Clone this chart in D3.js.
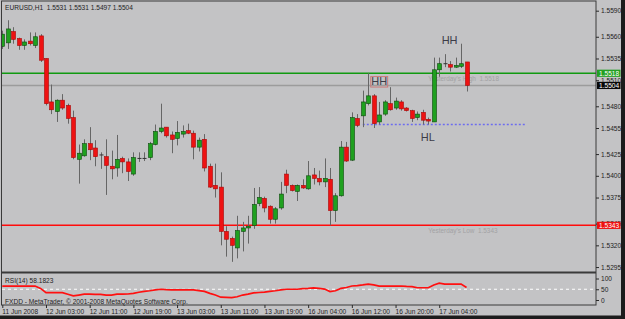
<!DOCTYPE html>
<html>
<head>
<meta charset="utf-8">
<script src="https://cdn.jsdelivr.net/npm/d3@7"></script>
<style>
  html, body { margin: 0; padding: 0; background: #c3c3c5; }
  svg { display: block; font-family: "Liberation Sans", Arial, sans-serif; }
  .ax text { font-size: 6.6px; fill: #1e1e1e; }
  .ax line { stroke: #2a2a2a; }
  .ax path { display: none; }
</style>
</head>
<body>
<svg id="chart" width="625" height="319"></svg>
<script>
// EURUSD H1 bars (11 Jun 19:00 .. 17 Jun 09:00)
const opens = [1.5549,1.5553,1.5566,1.5558,1.5550,1.5555,1.5550,1.5561,1.5535,1.5485,
  1.5474,1.5487,1.5481,1.5467,1.5419,1.5423,1.5437,1.5432,1.5424,1.5422,
  1.5411,1.5409,1.5420,1.5416,1.5402,1.5420,1.5420,1.5421,1.5436,1.5451,
  1.5456,1.5447,1.5443,1.5448,1.5452,1.5449,1.5433,1.5442,1.5411,1.5389,
  1.5387,1.5336,1.5328,1.5317,1.5336,1.5340,1.5343,1.5368,1.5374,1.5365,
  1.5350,1.5363,1.5402,1.5389,1.5382,1.5389,1.5385,1.5401,1.5397,1.5393,
  1.5396,1.5360,1.5377,1.5433,1.5418,1.5466,1.5469,1.5483,1.5492,1.5462,
  1.5471,1.5483,1.5478,1.5485,1.5478,1.5475,1.5467,1.5473,1.5465,1.5462,
  1.5522,1.5529,1.5528,1.5525,1.5526,1.5531];
const highs = [1.5567,1.5579,1.5571,1.5559,1.5557,1.5565,1.5565,1.5563,1.5535,1.5505,
  1.5488,1.5494,1.5483,1.5475,1.5436,1.5442,1.5456,1.5441,1.5427,1.5442,
  1.5429,1.5447,1.5422,1.5420,1.5427,1.5427,1.5427,1.5439,1.5459,1.5483,
  1.5456,1.5451,1.5463,1.5458,1.5460,1.5452,1.5444,1.5448,1.5414,1.5414,
  1.5404,1.5342,1.5330,1.5354,1.5347,1.5354,1.5386,1.5387,1.5376,1.5366,
  1.5364,1.5393,1.5407,1.5390,1.5390,1.5396,1.5417,1.5409,1.5406,1.5420,
  1.5409,1.5380,1.5440,1.5439,1.5473,1.5471,1.5498,1.5518,1.5494,1.5485,
  1.5487,1.5502,1.5490,1.5487,1.5479,1.5476,1.5474,1.5476,1.5467,1.5536,
  1.5536,1.5540,1.5532,1.5536,1.5552,1.5531];
const lows = [1.5546,1.5546,1.5552,1.5545,1.5545,1.5550,1.5547,1.5531,1.5481,1.5471,
  1.5462,1.5476,1.5460,1.5419,1.5391,1.5422,1.5418,1.5411,1.5408,1.5378,
  1.5396,1.5399,1.5403,1.5394,1.5400,1.5416,1.5417,1.5418,1.5435,1.5449,
  1.5444,1.5426,1.5435,1.5444,1.5448,1.5419,1.5428,1.5405,1.5386,1.5375,
  1.5320,1.5307,1.5301,1.5305,1.5313,1.5322,1.5339,1.5365,1.5358,1.5345,
  1.5345,1.5361,1.5380,1.5382,1.5371,1.5385,1.5384,1.5390,1.5389,1.5387,
  1.5343,1.5347,1.5376,1.5416,1.5417,1.5456,1.5456,1.5481,1.5455,1.5459,
  1.5469,1.5475,1.5476,1.5475,1.5474,1.5462,1.5464,1.5459,1.5459,1.5462,
  1.5514,1.5525,1.5520,1.5524,1.5524,1.5497];
const closes = [1.5563,1.5569,1.5557,1.5550,1.5554,1.5552,1.5560,1.5533,1.5483,1.5476,
  1.5487,1.5478,1.5466,1.5421,1.5426,1.5437,1.5430,1.5422,1.5424,1.5412,
  1.5408,1.5419,1.5416,1.5405,1.5421,1.5420,1.5420,1.5437,1.5451,1.5455,
  1.5446,1.5442,1.5450,1.5451,1.5449,1.5433,1.5441,1.5409,1.5387,1.5385,
  1.5336,1.5327,1.5320,1.5337,1.5340,1.5342,1.5367,1.5375,1.5363,1.5350,
  1.5362,1.5379,1.5389,1.5383,1.5389,1.5386,1.5400,1.5397,1.5393,1.5397,
  1.5360,1.5377,1.5433,1.5417,1.5467,1.5458,1.5485,1.5492,1.5460,1.5470,
  1.5485,1.5476,1.5486,1.5477,1.5475,1.5466,1.5471,1.5464,1.5463,1.5522,
  1.5529,1.5529,1.5525,1.5527,1.5529,1.5504];
const rsi = [65,65,65,65,65,65,65,54,34,34,
  34,34,27,19,23,27,27,26,26,23,
  23,27,27,28,31,36,40,43,47,50,
  48,47,47,47,47,47,44,40,31,23,
  13,12,11,15,23,27,33,35,37,40,
  43,47,50,50,50,53,54,56,54,51,
  39,43,54,58,65,67,70,74,70,65,
  65,65,65,65,63,62,57,57,57,70,
  78,74,74,74,74,58.1823];

const priceTicks = [1.5590,1.5560,1.5535,1.5510,1.5480,1.5455,1.5425,1.5400,1.5375,1.5345,1.5320,1.5295];
const rsiTicks = [0, 50, 100];
const timeBars = [0, 8, 16, 24, 32, 40, 48, 56, 64, 72, 80];
const timeLabels = ["11 Jun 2008","12 Jun 03:00","12 Jun 11:00","12 Jun 19:00","13 Jun 03:00",
  "13 Jun 11:00","13 Jun 19:00","16 Jun 04:00","16 Jun 12:00","16 Jun 20:00","17 Jun 04:00"];

const yHigh = 1.5518, yLow = 1.5343, bid = 1.5504;
const hlLevel = 1.5459, hlFrom = 66, hlTo = 96;
const marks = [
  { text: "HH", bar: 69, price: 1.5509, boxed: true },
  { text: "HH", bar: 81.9, price: 1.5556, boxed: false },
  { text: "HL", bar: 77.9, price: 1.5445, boxed: false }
];

const svg = d3.select("#chart");
const x = d3.scaleLinear().domain([0, 108.7]).range([2.3, 596]);
const y = d3.scaleLinear().domain([1.5290, 1.5600]).range([271.4, 2]);
const ry = d3.scaleLinear().domain([0, 100]).range([300, 278.5]);
const fmt = d3.format(".4f");

svg.append("rect").attr("width", 625).attr("height", 319).attr("fill", "#c3c3c5");

svg.append("clipPath").attr("id", "mainclip").append("rect")
  .attr("x", 2).attr("y", 1.5).attr("width", 594).attr("height", 270);
svg.append("clipPath").attr("id", "rsiclip").append("rect")
  .attr("x", 2).attr("y", 274).attr("width", 594).attr("height", 30.5);

// levels (behind candles)
const lv = svg.append("g").attr("clip-path", "url(#mainclip)");
lv.append("line").attr("x1", 2).attr("x2", 596).attr("y1", y(bid)).attr("y2", y(bid))
  .attr("stroke", "#9c9c9c").attr("stroke-width", 1.6);
const levelDefs = [
  { value: yHigh, color: "#109a10", name: "Yesterday's High" },
  { value: yLow, color: "#ff0c0c", name: "Yesterday's Low" }
];
levelDefs.forEach((d) => {
  lv.append("line").attr("x1", 2).attr("x2", 596).attr("y1", y(d.value)).attr("y2", y(d.value))
    .style("stroke", d.color).style("stroke-width", "1.5px");
  lv.append("text").attr("x", x(78)).attr("y", y(d.value) + 5).attr("dominant-baseline", "central")
    .style("font-size", "6.4px").style("white-space", "pre").attr("fill", "#a2a2a4")
    .text(`${d.name}  ${fmt(d.value)}`);
});
lv.append("line").attr("x1", x(hlFrom)).attr("x2", x(hlTo)).attr("y1", y(hlLevel)).attr("y2", y(hlLevel))
  .attr("stroke", "#6c6cf0").attr("stroke-width", 1.4).attr("stroke-dasharray", "2 2");

// candles
const bars = opens.map((o, i) => ({ i, o, h: highs[i], l: lows[i], c: closes[i] }));
const cg = svg.append("g").attr("clip-path", "url(#mainclip)");
const cx = (d) => Math.round(x(d.i));
cg.selectAll("line.wick").data(bars).join("line").attr("class", "wick")
  .attr("x1", (d) => cx(d) + 0.5).attr("x2", (d) => cx(d) + 0.5)
  .attr("y1", (d) => y(d.h)).attr("y2", (d) => y(d.l))
  .attr("stroke", "#666").attr("stroke-width", 1);
cg.selectAll("rect.body").data(bars).join("rect").attr("class", "body")
  .attr("x", (d) => cx(d) - 1.5).attr("width", 4)
  .attr("y", (d) => d.o === d.c ? y(d.o) - 0.5 : y(Math.max(d.o, d.c)))
  .attr("height", (d) => Math.max(1, Math.abs(y(d.o) - y(d.c))))
  .attr("fill", (d) => d.c > d.o ? "#1fa01f" : d.c < d.o ? "#ee1212" : "#333")
  .attr("stroke", (d) => d.c > d.o ? "#0c4a0c" : d.c < d.o ? "#a80808" : "none")
  .attr("stroke-width", 0.6);

// annotations
marks.forEach((m) => {
  const t = svg.append("text").attr("x", x(m.bar)).attr("y", y(m.price))
    .attr("text-anchor", "middle").attr("dominant-baseline", "central")
    .style("font-size", "11px").attr("fill", "#3c3c48").text(m.text);
  if (m.boxed) {
    const b = t.node().getBBox();
    svg.append("rect").attr("x", b.x - 0.5).attr("y", b.y + 1.5).attr("width", b.width + 1).attr("height", b.height - 1.5)
      .attr("fill", "none").attr("stroke", "#cc7a7a").attr("stroke-width", 1);
  }
});

// RSI panel
const rg = svg.append("g").attr("clip-path", "url(#rsiclip)");
rg.append("line").attr("x1", 2).attr("x2", 596).attr("y1", ry(50)).attr("y2", ry(50))
  .attr("stroke", "#fff").attr("stroke-dasharray", "3 3");
rg.append("path").datum(rsi).attr("fill", "none").attr("stroke", "#ff1010").attr("stroke-width", 1.7)
  .attr("d", d3.line().x((d, i) => x(i)).y((d) => ry(d)));

// frame
const frame = svg.append("g").attr("fill", "none").attr("stroke", "#3a3a3a");
frame.append("rect").attr("x", 1.5).attr("y", 1).attr("width", 594.5).attr("height", 304);
frame.append("line").attr("x1", 1.5).attr("x2", 596).attr("y1", 272.5).attr("y2", 272.5).attr("stroke-width", 2);

// axes
svg.append("g").attr("class", "ax").attr("transform", "translate(596,0)")
  .call(d3.axisRight(y).tickValues(priceTicks).tickSize(3).tickPadding(2).tickFormat(fmt));
svg.append("g").attr("class", "ax").attr("transform", "translate(596,0)")
  .call(d3.axisRight(ry).tickValues(rsiTicks).tickSize(3).tickPadding(2));
const tx = svg.append("g").attr("class", "ax").attr("transform", "translate(0,305)")
  .call(d3.axisBottom(x).tickValues(timeBars).tickSize(3).tickPadding(1)
    .tickFormat((d, i) => timeLabels[i]));
tx.selectAll("text").attr("text-anchor", "start").attr("dx", "-0.5");

// price markers on the axis
[[yHigh, "#23a023"], [bid, "#080808"], [yLow, "#ee1111"]].forEach((d) => {
  svg.append("rect").attr("x", 597).attr("y", y(d[0]) - 3.6).attr("width", 23.5).attr("height", 7.2).attr("fill", d[1]);
  svg.append("text").attr("x", 599).attr("y", y(d[0])).attr("dominant-baseline", "central")
    .style("font-size", "6.6px").attr("fill", "#fff").text(fmt(d[0]));
});

// captions
const last = bars[bars.length - 1];
svg.append("text").attr("x", 5).attr("y", 7).attr("dominant-baseline", "central")
  .style("font-size", "6.6px").style("white-space", "pre").attr("fill", "#1e1e1e")
  .text(`EURUSD,H1  ${fmt(last.o)} ${fmt(last.h)} ${fmt(last.l)} ${fmt(last.c)}`);
svg.append("text").attr("x", 5).attr("y", 280.5).attr("dominant-baseline", "central")
  .style("font-size", "6.6px").attr("fill", "#1e1e1e").text(`RSI(14) ${rsi[rsi.length - 1].toFixed(4)}`);
svg.append("text").attr("x", 5).attr("y", 301).attr("dominant-baseline", "central")
  .style("font-size", "6.6px").attr("fill", "#1e1e1e")
  .text("FXDD - MetaTrader, © 2001-2008 MetaQuotes Software Corp.");

// window border
svg.append("rect").attr("x", 621).attr("y", 0).attr("width", 4).attr("height", 319).attr("fill", "#1c1c1c");
svg.append("rect").attr("x", 0).attr("y", 315.5).attr("width", 625).attr("height", 3.5).attr("fill", "#1c1c1c");
</script>
</body>
</html>
